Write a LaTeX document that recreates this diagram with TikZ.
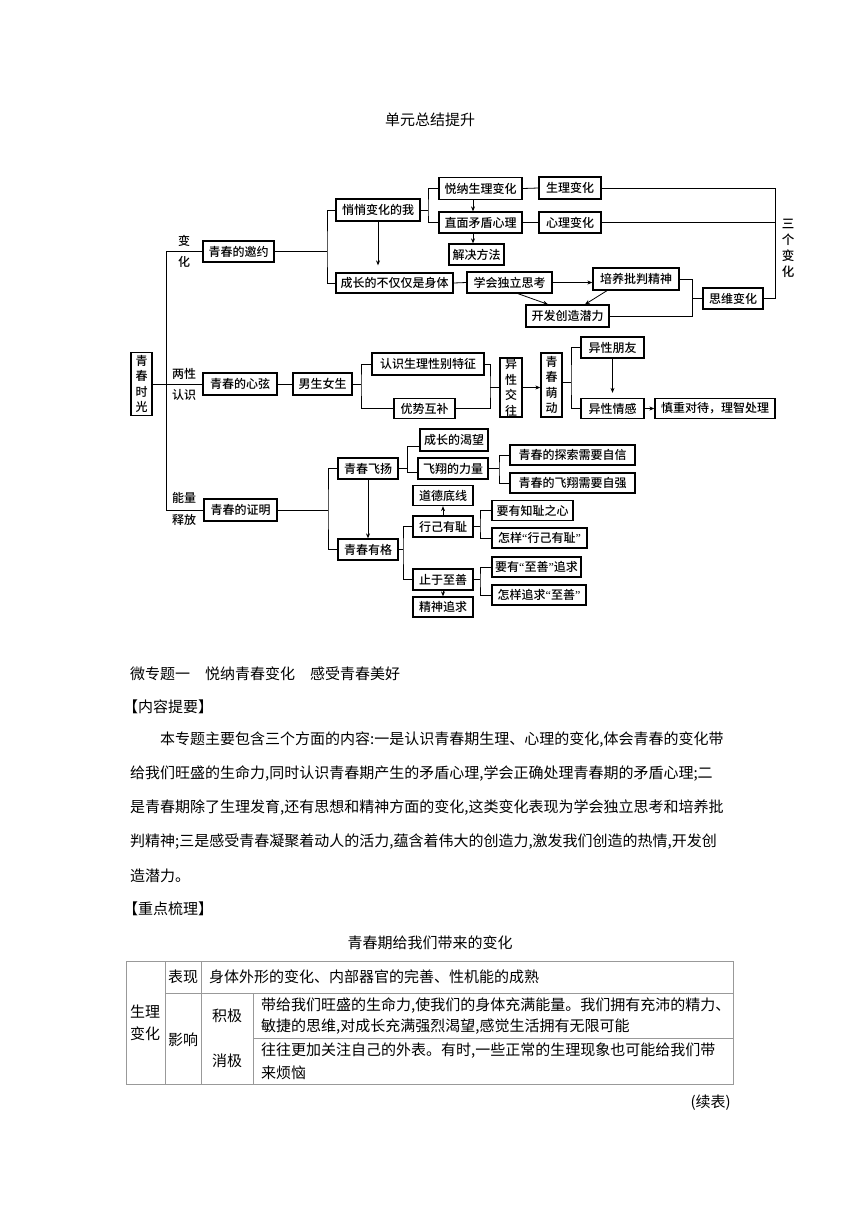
\documentclass[tikz,border=0pt]{standalone}
\usepackage{fontspec}
\setmainfont{Noto Sans CJK SC}
\newfontfamily\dfont{Noto Sans CJK SC Medium}
\newfontfamily\lat{Liberation Serif}
\usetikzlibrary{arrows.meta,calc}
\XeTeXlinebreaklocale "zh"
\XeTeXlinebreakskip=0pt plus 1pt
\tikzset{
  bx/.style={draw, line width=1.3pt, inner sep=0pt, minimum height=21pt, font=\dfont\fontsize{12pt}{15pt}\selectfont},
  vbx/.style={draw, line width=1.3pt, inner sep=0pt, align=center, font=\dfont\fontsize{12pt}{15.5pt}\selectfont},
  ln/.style={line width=0.8pt},
  ar/.style={line width=0.8pt, -{Stealth[length=5pt,width=4pt]}},
  lbl/.style={inner sep=0pt, font=\dfont\fontsize{12pt}{15pt}\selectfont},
  body/.style={inner sep=0pt, font=\fontsize{15pt}{18pt}\selectfont, anchor=west},
  ctr/.style={inner sep=0pt, font=\fontsize{15pt}{22pt}\selectfont, align=center},
  tb/.style={draw=black!40, line width=0.6pt},
}
\begin{document}
\begin{tikzpicture}[x=1pt,y=-1pt]
\useasboundingbox (0,0) rectangle (860,1216);
\fill[white] (0,0) rectangle (860,1216);

% ---------- title ----------
\node[inner sep=0pt, font=\fontsize{15pt}{18pt}\selectfont] (title) at (430,120) {单元总结提升};

% ---------- diagram nodes ----------
\node[vbx, minimum width=21pt, minimum height=63pt] (qc) at (141.5,384) {青\\春\\时\\光};
\node[bx, minimum width=71pt] (yy) at (238.5,251.5) {青春的邀约};
\node[bx, minimum width=74pt, minimum height=22pt] (xx) at (240,384) {青春的心弦};
\node[bx, minimum width=73pt, minimum height=22pt] (zm) at (240.5,510) {青春的证明};

\node[lbl] (l1) at (184,241) {变};
\node[lbl] (l2) at (184,262) {化};
\node[lbl] (l3) at (184,374) {两性};
\node[lbl] (l4) at (184,395) {认识};
\node[lbl] (l5) at (184,498) {能量};
\node[lbl] (l6) at (184,520) {释放};

% top branch
\node[bx, minimum width=84pt, minimum height=22pt] (qq) at (378,210) {悄悄变化的我};
\node[bx, minimum width=117pt, minimum height=20pt] (cz) at (394.5,283) {成长的不仅仅是身体};
\node[bx, minimum width=83pt, minimum height=22pt] (yn) at (480.5,188.5) {悦纳生理变化};
\node[bx, minimum width=83pt] (zmx) at (480.5,222.5) {直面矛盾心理};
\node[bx, minimum width=55pt] (jj) at (476.5,254.5) {解决方法};
\node[bx, minimum width=62pt, minimum height=22pt] (sl) at (570,188) {生理变化};
\node[bx, minimum width=62pt] (xl) at (570,222.5) {心理变化};
\node[bx, minimum width=85pt] (xh) at (509.5,282.5) {学会独立思考};
\node[bx, minimum width=86pt, minimum height=22pt] (py) at (636,279) {培养批判精神};
\node[bx, minimum width=83pt, minimum height=22pt] (kf) at (567.5,316) {开发创造潜力};
\node[bx, minimum width=60pt] (sw) at (733,298.5) {思维变化};
\node[inner sep=0pt, align=center, font=\dfont\fontsize{12.5pt}{16pt}\selectfont] (sg) at (788,248) {三\\个\\变\\化};

% middle branch
\node[bx, minimum width=59pt, minimum height=22pt] (nn) at (322.5,384) {男生女生};
\node[bx, minimum width=112pt, minimum height=22pt] (rs) at (428,364) {认识生理性别特征};
\node[bx, minimum width=61pt, minimum height=20pt] (ys) at (424.5,408.5) {优势互补};
\node[vbx, minimum width=22pt, minimum height=59pt] (jw) at (511,387.5) {异\\性\\交\\往};
\node[vbx, minimum width=21pt, minimum height=64pt] (md) at (551.5,385) {青\\春\\萌\\动};
\node[bx, minimum width=63pt] (pf) at (612.5,347.5) {异性朋友};
\node[bx, minimum width=63pt, minimum height=20pt] (qg) at (612.5,408.5) {异性情感};
\node[bx, minimum width=120pt, minimum height=20pt] (sz) at (715,408.5) {慎重对待，理智处理};

% bottom branch
\node[bx, minimum width=60pt] (fy) at (368,468.5) {青春飞扬};
\node[bx, minimum width=60pt] (yg) at (368,549.5) {青春有格};
\node[bx, minimum width=68pt, minimum height=22pt] (kw) at (454,440) {成长的渴望};
\node[bx, minimum width=70pt] (fx) at (453,468.5) {飞翔的力量};
\node[bx, minimum width=125pt, minimum height=20pt] (ts) at (572.5,455) {青春的探索需要自信};
\node[bx, minimum width=125pt, minimum height=20pt] (fz) at (572.5,483) {青春的飞翔需要自强};
\node[bx, minimum width=60pt, minimum height=20pt] (dd) at (443,495.5) {道德底线};
\node[bx, minimum width=60pt] (xj) at (443,526.5) {行己有耻};
\node[bx, minimum width=60pt] (zy) at (443,579.5) {止于至善};
\node[bx, minimum width=60pt, minimum height=20pt] (js) at (443,607) {精神追求};
\node[bx, minimum width=81pt, minimum height=20pt] (zc) at (532.5,510.5) {要有知耻之心};
\node[bx, minimum width=95pt, minimum height=20pt] (zy1) at (539.5,538) {怎样{\lat “}行己有耻{\lat ”}};
\node[bx, minimum width=89pt, minimum height=20pt] (zs) at (536.5,567) {要有{\lat “}至善{\lat ”}追求};
\node[bx, minimum width=94pt, minimum height=20pt] (zy2) at (539,595) {怎样追求{\lat “}至善{\lat ”}};

% ---------- connectors ----------
\coordinate (t1) at (166,251.5);
\coordinate (t2) at (166,510);
\draw[ln] (t1) -- (t2);
\draw[ln] (t1) -- (yy.west);
\draw[ln] (qc.east) -- (xx.west);
\draw[ln] (t2) -- (zm.west);

% top
\coordinate (f1) at (327,251.5);
\draw[ln] (yy.east) -- (f1);
\draw[ln] (qq.west) -| (f1) |- (cz.west);
\draw[ar, shorten >=7pt] (qq.south) -- (qq.south |- cz.north);
\coordinate (f2) at (428,210);
\draw[ln] (qq.east) -- (f2);
\draw[ln] (yn.west) -| (f2) |- (zmx.west);
\coordinate (a1) at ($(yn.south)+(-7.5,0)$);
\coordinate (a2) at ($(zmx.south)+(-7.5,0)$);
\draw[ar] (a1) -- (a1 |- zmx.north);
\draw[ar] (a2) -- (a2 |- jj.north);
\draw[ln] (yn.east) -- (sl.west);
\draw[ln] (zmx.east) -- (xl.west);
\coordinate (r1) at (775,188);
\draw[ln] (sl.east) -| (sw.east -| r1) -- (sw.east);
\draw[ln] (xl.east) -- (xl.east -| r1);
\draw[ln] (cz.east) -- (xh.west);
\draw[ar] (xh.east) -- (xh.east -| py.west);
\draw[ar] ($(xh.south)+(8.5,0)$) -- ($(kf.north)+(-19.5,0)$);
\draw[ar] ($(py.south)+(-29,0)$) -- ($(kf.north)+(17.5,0)$);
\coordinate (f3) at (692,298.5);
\draw[ln] (py.east) -| (kf.east -| f3) -- (kf.east);
\draw[ln] (f3) -- (sw.west);

% middle
\draw[ln] (xx.east) -- (nn.west);
\coordinate (f4) at (361,384);
\draw[ln] (nn.east) -- (f4);
\draw[ln] (rs.west) -| (f4) |- (ys.west);
\coordinate (f5) at (490,387.5);
\draw[ln] (rs.east) -| (f5) |- (ys.east);
\draw[ln] (f5) -- (jw.west);
\draw[ar] (jw.east) -- (jw.east -| md.west);
\coordinate (f6) at (571,382);
\draw[ln] (md.east |- f6) -- (f6);
\draw[ln] (pf.west) -| (f6) |- (qg.west);
\draw[ar, shorten >=5pt] (pf.south) -- (pf.south |- qg.north);
\draw[ar] (qg.east) -- (sz.west);

% bottom
\coordinate (f7) at (328,510);
\draw[ln] (zm.east) -- (f7);
\draw[ln] (fy.west) -| (f7) |- (yg.west);
\draw[ar] (fy.south) -- (yg.north);
\coordinate (f8) at (407,468.5);
\coordinate (k1) at ($(kw.west)+(0,6.5)$);
\coordinate (k2) at ($(fx.west)+(0,4)$);
\draw[ln] (fy.east) -- (f8);
\draw[ln] (k1) -| (k2 -| f8) -- (k2);
\coordinate (f9) at (499,468.5);
\draw[ln] (fx.east) -- (f9);
\draw[ln] (ts.west) -| (f9) |- (fz.west);
\draw[ar] (xj.north) -- (dd.south);
\coordinate (f10) at (403,549.5);
\draw[ln] (yg.east) -- (f10);
\draw[ln] (xj.west) -| (f10) |- (zy.west);
\draw[ar] (zy.south) -- (js.north);
\coordinate (f11) at (480,526.5);
\draw[ln] (xj.east) -- (f11);
\draw[ln] (zc.west) -| (f11) |- (zy1.west);
\coordinate (f12) at (480,579.5);
\draw[ln] (zy.east) -- (f12);
\draw[ln] (zs.west) -| (f12) |- (zy2.west);

% ---------- text ----------
\node[body] (h1) at (130,674) {微专题一\hspace{15pt}悦纳青春变化\hspace{15pt}感受青春美好};
\node[body] (h2) at (123,707) {【内容提要】};
\node[body] (p1) at (160,740) {\hbox to 573pt{本专题主要包含三个方面的内容:一是认识青春期生理、心理的变化,体会青春的变化带}};
\node[body] (p2) at (130,774) {\hbox to 603pt{给我们旺盛的生命力,同时认识青春期产生的矛盾心理,学会正确处理青春期的矛盾心理;二}};
\node[body] (p3) at (130,808) {\hbox to 603pt{是青春期除了生理发育,还有思想和精神方面的变化,这类变化表现为学会独立思考和培养批}};
\node[body] (p4) at (130,842) {\hbox to 603pt{判精神;三是感受青春凝聚着动人的活力,蕴含着伟大的创造力,激发我们创造的热情,开发创}};
\node[body] (p5) at (130,876) {造潜力。};
\node[body] (h3) at (123,909) {【重点梳理】};
\node[inner sep=0pt, font=\fontsize{15pt}{18pt}\selectfont] (tt) at (430,943) {青春期给我们带来的变化};

% ---------- table ----------
\draw[tb] (126,961) rectangle (733,1084);
\draw[tb] (165,961) -- (165,1084);
\draw[tb] (201,961) -- (201,1084);
\draw[tb] (165,993) -- (733,993);
\draw[tb] (253,993) -- (253,1084);
\draw[tb] (253,1038) -- (733,1038);
\node[ctr] (c1) at (145,1023) {生理\\变化};
\node[ctr] (c2) at (183,977) {表现};
\node[ctr] (c3) at (183,1040) {影响};
\node[ctr] (c4) at (227,1016) {积极};
\node[ctr] (c5) at (227,1061) {消极};
\node[body] (c6) at (209,977) {身体外形的变化、内部器官的完善、性机能的成熟};
\node[body] (c7) at (261,1006) {\hbox to 467pt{带给我们旺盛的生命力,使我们的身体充满能量。我们拥有充沛的精力、}};
\node[body] (c8) at (261,1027) {敏捷的思维,对成长充满强烈渴望,感觉生活拥有无限可能};
\node[body] (c9) at (261,1051) {\hbox to 467pt{往往更加关注自己的外表。有时,一些正常的生理现象也可能给我们带}};
\node[body] (c10) at (261,1073) {来烦恼};
\node[inner sep=0pt, anchor=east, font=\fontsize{15pt}{18pt}\selectfont] (xb) at (731,1103) {(续表)};
\end{tikzpicture}
\end{document}
